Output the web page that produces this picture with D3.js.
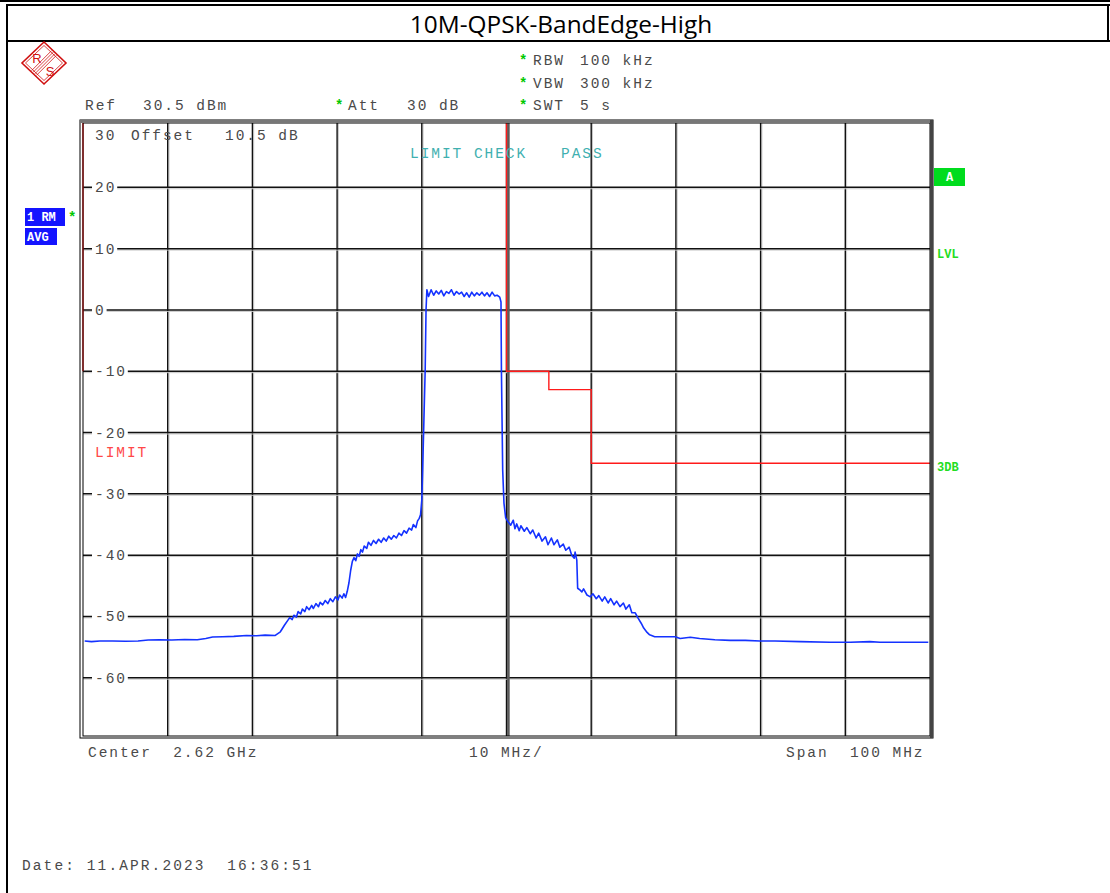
<!DOCTYPE html>
<html><head><meta charset="utf-8">
<script src="https://cdn.jsdelivr.net/npm/d3@7"></script>
<style>
html,body{margin:0;padding:0;background:#fff;}
svg{display:block;}
text{white-space:pre;}
</style></head><body>
<svg id="c" width="1110" height="893"></svg>
<script>
// ---------- data ----------
const chartTitle = "10M-QPSK-BandEdge-High";
const freqDomain = [2570, 2670];          // MHz (center 2.62 GHz, span 100 MHz)
const levelDomain = [-69.5, 30.5];        // dBm (ref 30.5 dBm, 10 dB/div)
const yTickValues = [20, 10, 0, -10, -20, -30, -40, -50, -60];
const yTickLabels = ["20", "10", "0", "-10", "-20", "-30", "-40", "-50", "-60"];
const limitFreq  = [2620, 2620, 2625, 2625, 2630, 2630, 2670];
const limitLevel = [30.5, -10, -10, -13, -13, -25, -25];
const limitEdgeFreq  = [2570, 2570];
const limitEdgeLevel = [30.5, -10];
const headerLeft = ["Ref", "30.5 dBm"];
const headerAtt = ["Att", "30 dB"];
const sweepInfo = [["RBW", "100 kHz"], ["VBW", "300 kHz"], ["SWT", "5 s"]];
const footer = ["Center  2.62 GHz", "10 MHz/", "Span  100 MHz"];
const dateText = "Date: 11.APR.2023  16:36:51";

// trace 1 (RM AVG): [frequency MHz, level dBm]
const trace = [
 [2570.2,-54.0],[2571.0,-54.1],[2572.0,-54.0],[2573.5,-54.0],[2575.0,-54.05],[2576.5,-54.0],
 [2577.7,-53.85],[2579.0,-53.8],[2580.5,-53.85],[2582.0,-53.75],[2583.5,-53.8],[2584.5,-53.6],
 [2585.3,-53.35],[2586.5,-53.3],[2587.8,-53.25],[2589.3,-53.1],[2590.5,-53.15],[2591.5,-53.05],
 [2592.7,-53.1],[2593.3,-52.5],[2593.8,-51.4],[2594.2,-50.6],[2594.4,-50.2],[2594.7,-50.5],
 [2594.9,-49.8],[2595.2,-50.1],[2595.4,-49.2],[2595.7,-49.6],[2595.9,-48.8],[2596.2,-49.2],
 [2596.4,-48.4],[2596.7,-48.9],[2597.0,-48.2],[2597.2,-48.7],[2597.5,-47.9],[2597.8,-48.4],
 [2598.0,-47.7],[2598.3,-48.1],[2598.6,-47.4],[2598.9,-47.9],[2599.2,-47.1],[2599.5,-47.6],
 [2599.8,-46.8],[2600.1,-47.3],[2600.3,-46.5],[2600.6,-47.0],[2600.8,-46.3],[2601.0,-46.9],
 [2601.2,-45.9],[2601.4,-44.5],[2601.6,-42.5],[2601.8,-41.0],[2602.0,-40.4],[2602.2,-40.9],
 [2602.4,-39.8],[2602.6,-40.2],[2602.8,-39.1],[2603.0,-39.5],[2603.2,-38.5],[2603.5,-38.9],
 [2603.7,-37.9],[2604.0,-38.4],[2604.3,-37.6],[2604.6,-38.1],[2604.9,-37.4],[2605.2,-37.9],
 [2605.5,-37.2],[2605.8,-37.7],[2606.1,-36.9],[2606.4,-37.4],[2606.7,-36.8],[2607.0,-37.2],
 [2607.3,-36.4],[2607.6,-36.8],[2607.9,-36.0],[2608.2,-36.4],[2608.5,-35.6],[2608.8,-35.9],
 [2609.0,-35.0],[2609.3,-35.5],[2609.5,-34.4],[2609.7,-34.0],[2609.85,-33.4],[2610.0,-31.0],
 [2610.1,-26.1],[2610.25,-17.9],[2610.4,-9.8],[2610.5,0.0],[2610.6,3.3],[2610.8,2.2],
 [2611.1,3.3],[2611.4,2.4],[2611.7,3.1],[2612.0,2.6],[2612.3,3.2],[2612.6,2.3],
 [2612.9,3.0],[2613.2,2.7],[2613.5,3.3],[2613.8,2.4],[2614.1,3.0],[2614.4,2.6],
 [2614.7,2.9],[2615.0,2.2],[2615.3,2.8],[2615.6,2.1],[2615.9,2.9],[2616.2,2.3],
 [2616.5,2.8],[2616.8,2.4],[2617.1,2.9],[2617.4,2.3],[2617.7,2.8],[2618.0,2.2],
 [2618.3,2.9],[2618.6,2.3],[2618.9,2.4],[2619.2,2.1],[2619.35,1.3],[2619.4,-9.8],
 [2619.55,-26.1],[2619.7,-31.5],[2619.9,-33.9],[2620.2,-34.6],[2620.5,-35.1],[2620.8,-34.3],
 [2621.0,-35.7],[2621.2,-34.9],[2621.5,-36.0],[2621.7,-35.2],[2622.1,-36.1],[2622.4,-35.5],
 [2622.8,-36.5],[2623.1,-35.9],[2623.5,-37.2],[2623.8,-36.4],[2624.2,-37.7],[2624.6,-37.0],
 [2624.9,-38.3],[2625.3,-37.2],[2625.6,-38.3],[2626.0,-37.5],[2626.3,-38.7],[2626.7,-38.2],
 [2627.0,-39.2],[2627.4,-38.7],[2627.7,-40.0],[2628.0,-40.5],[2628.1,-39.5],[2628.3,-40.8],
 [2628.4,-45.4],[2628.7,-45.7],[2628.9,-46.0],[2629.1,-45.5],[2629.5,-46.5],[2629.9,-46.8],
 [2630.2,-46.3],[2630.6,-47.1],[2630.9,-46.6],[2631.3,-47.5],[2631.6,-46.8],[2632.0,-47.8],
 [2632.3,-47.1],[2632.7,-48.1],[2633.0,-47.5],[2633.4,-48.4],[2633.8,-47.8],[2634.1,-48.8],
 [2634.5,-48.1],[2634.8,-49.4],[2635.2,-49.4],[2635.5,-50.2],[2635.9,-51.1],[2636.2,-51.9],
 [2636.6,-52.6],[2636.9,-53.0],[2637.5,-53.3],[2638.7,-53.3],[2639.9,-53.3],[2640.5,-53.6],
 [2641.7,-53.4],[2642.8,-53.6],[2644.6,-53.8],[2646.4,-53.9],[2648.2,-53.9],[2649.9,-54.0],
 [2651.7,-54.0],[2654.7,-54.1],[2658.2,-54.2],[2660.6,-54.2],[2662.9,-54.1],[2664.1,-54.2],
 [2666.5,-54.2],[2669.8,-54.2]
];

// ---------- drawing ----------
const svg = d3.select("#c");
const MONO = '"Liberation Mono", "DejaVu Sans Mono", monospace';
const GRAY_TXT = "#4a4a4a";

const x = d3.scaleLinear().domain(freqDomain).range([83, 930]);
const y = d3.scaleLinear().domain(levelDomain).range([736, 123]);

// outer page frame
svg.append("rect").attr("width",1110).attr("height",893).attr("fill","#fff");
svg.append("line").attr("x1",0).attr("x2",1110).attr("y1",1).attr("y2",1).attr("stroke","#000").attr("stroke-width",2);
svg.append("line").attr("x1",7).attr("x2",1110).attr("y1",5).attr("y2",5).attr("stroke","#000").attr("stroke-width",2);
svg.append("line").attr("x1",7).attr("x2",7).attr("y1",4).attr("y2",893).attr("stroke","#000").attr("stroke-width",2);
svg.append("line").attr("x1",1108).attr("x2",1108).attr("y1",4).attr("y2",41).attr("stroke","#000").attr("stroke-width",2);
svg.append("line").attr("x1",7).attr("x2",1110).attr("y1",41).attr("y2",41).attr("stroke","#000").attr("stroke-width",2);

svg.append("text").attr("x",561).attr("y",33).attr("text-anchor","middle")
  .attr("font-family",'"Open Sans", "Liberation Sans", sans-serif').attr("font-size",24.4)
  .attr("fill","#000").text(chartTitle);

// R&S logo
const logo = svg.append("g").attr("transform","translate(44,63)");
logo.append("path").attr("d","M0,-21 L22,0 L0,21 L-22,0 Z").attr("fill","#fff").attr("stroke","#d01010").attr("stroke-width",1.6);
logo.append("path").attr("d","M0,-17.5 L18.5,0 L0,17.5 L-18.5,0 Z").attr("fill","none").attr("stroke","#d01010").attr("stroke-width",0.8);
[-2.4,-0.8,0.8,2.4].forEach(o=>{
  logo.append("line").attr("x1",-10+o).attr("y1",10+o).attr("x2",10+o).attr("y2",-10+o)
    .attr("stroke","#d01010").attr("stroke-width",0.8);
});
logo.append("text").attr("x",-7).attr("y",0).attr("text-anchor","middle").attr("font-family",'"Liberation Sans", sans-serif')
  .attr("font-size",13).attr("fill","#d01010").text("R");
logo.append("text").attr("x",6).attr("y",13).attr("text-anchor","middle").attr("font-family",'"Liberation Sans", sans-serif')
  .attr("font-size",13).attr("fill","#d01010").text("S");

function mono(xp, yp, str, color, ls) {
  return svg.append("text").attr("x",xp).attr("y",yp).attr("font-family",MONO)
    .attr("font-size",14.5).attr("fill",color||GRAY_TXT).attr("letter-spacing",ls==null?1.95:ls).text(str);
}
function star(xp, yp) {
  svg.append("text").attr("x",xp).attr("y",yp).attr("font-family",MONO).attr("font-size",14)
    .attr("font-weight","bold").attr("fill","#00c800").text("*");
}

// header
mono(85,110,headerLeft[0]); mono(143,110,headerLeft[1]);
star(335,110); mono(348,110,headerAtt[0]); mono(407,110,headerAtt[1]);
sweepInfo.forEach((s,i)=>{
  const yy = 65 + i*22.5;
  star(519,yy); mono(533,yy,s[0]); mono(580,yy,s[1]);
});

// gridlines
const plot = svg.append("g");
const vTicks = x.ticks(10).filter(v => v > freqDomain[0] && v < freqDomain[1]);
vTicks.forEach(v=>{
  plot.append("line").attr("x1",x(v)+1.3).attr("x2",x(v)+1.3).attr("y1",123).attr("y2",736).attr("stroke","#c8c8c8").attr("stroke-width",1);
  plot.append("line").attr("x1",x(v)).attr("x2",x(v)).attr("y1",123).attr("y2",736).attr("stroke","#111").attr("stroke-width",1.4);
});
yTickValues.forEach(v=>{
  plot.append("line").attr("x1",83).attr("x2",930).attr("y1",y(v)+1.4).attr("y2",y(v)+1.4).attr("stroke","#c8c8c8").attr("stroke-width",1);
  plot.append("line").attr("x1",83).attr("x2",930).attr("y1",y(v)).attr("y2",y(v)).attr("stroke","#111").attr("stroke-width",1.5);
});
// center frequency line (thick gray)
plot.append("line").attr("x1",x(2620)+1.9).attr("x2",x(2620)+1.9).attr("y1",123).attr("y2",736)
  .attr("stroke","#5a5a5a").attr("stroke-width",2.6);

// y tick labels with knocked-out background
yTickValues.forEach((v,i)=>{
  const lab = yTickLabels[i];
  const w = lab.length * 10.6 + 4;
  plot.append("rect").attr("x",92).attr("y",y(v)-8).attr("width",w).attr("height",16).attr("fill","#fff");
  mono(95, y(v)+5, lab);
});

// top-left labels in plot
mono(95,140,"30"); mono(131,140,"Offset"); mono(225,140,"10.5 dB");
mono(410,158,"LIMIT CHECK","#3fb0b0"); mono(561,158,"PASS","#3fb0b0");
mono(95,457,"LIMIT","#ff4848");

// limit lines
const lineGen = d3.line().x(d=>x(d[0])).y(d=>y(d[1]));
plot.append("path").datum(limitFreq.map((f,i)=>[f,limitLevel[i]])).attr("d",lineGen)
  .attr("fill","none").attr("stroke","#ff1a1a").attr("stroke-width",1.4);
plot.append("path").datum(limitEdgeFreq.map((f,i)=>[f,limitEdgeLevel[i]])).attr("d",lineGen)
  .attr("fill","none").attr("stroke","#ff1a1a").attr("stroke-width",1.4);

// trace
plot.append("path").datum(trace).attr("d",lineGen)
  .attr("fill","none").attr("stroke","#1432ff").attr("stroke-width",1.6).attr("stroke-linejoin","round");

// plot frame
svg.append("rect").attr("x",80).attr("y",120).attr("width",853).attr("height",618).attr("fill","none").attr("stroke","#000").attr("stroke-width",1);
svg.append("rect").attr("x",83).attr("y",123).attr("width",847).attr("height",613).attr("fill","none").attr("stroke","#000").attr("stroke-width",1);
svg.append("rect").attr("x",80).attr("y",120).attr("width",853).attr("height",3).attr("fill","#777");
svg.append("rect").attr("x",930).attr("y",120).attr("width",3).attr("height",618).attr("fill","#444");

// left badges
svg.append("rect").attr("x",25).attr("y",208).attr("width",40).attr("height",18).attr("fill","#1414ff");
svg.append("text").attr("x",27).attr("y",221).attr("font-family",MONO).attr("font-weight","bold").attr("font-size",12).attr("fill","#fff").text("1 RM");
svg.append("rect").attr("x",25).attr("y",228).attr("width",32).attr("height",17).attr("fill","#1414ff");
svg.append("text").attr("x",27).attr("y",241).attr("font-family",MONO).attr("font-weight","bold").attr("font-size",12).attr("fill","#fff").text("AVG");
star(68,222);

// right side labels
svg.append("rect").attr("x",934).attr("y",168).attr("width",31).attr("height",18).attr("fill","#00dc1e");
svg.append("text").attr("x",949.5).attr("y",181).attr("text-anchor","middle").attr("font-family",MONO).attr("font-weight","bold").attr("font-size",12).attr("fill","#fff").text("A");
svg.append("text").attr("x",937).attr("y",258).attr("font-family",MONO).attr("font-weight","bold").attr("font-size",12).attr("fill","#22dd22").text("LVL");
svg.append("text").attr("x",937).attr("y",471).attr("font-family",MONO).attr("font-weight","bold").attr("font-size",12).attr("fill","#22dd22").text("3DB");

// footer
mono(88,757,footer[0]); mono(469,757,footer[1]); mono(786,757,footer[2]);
mono(22,870,dateText,GRAY_TXT,2.1);
</script></body></html>
